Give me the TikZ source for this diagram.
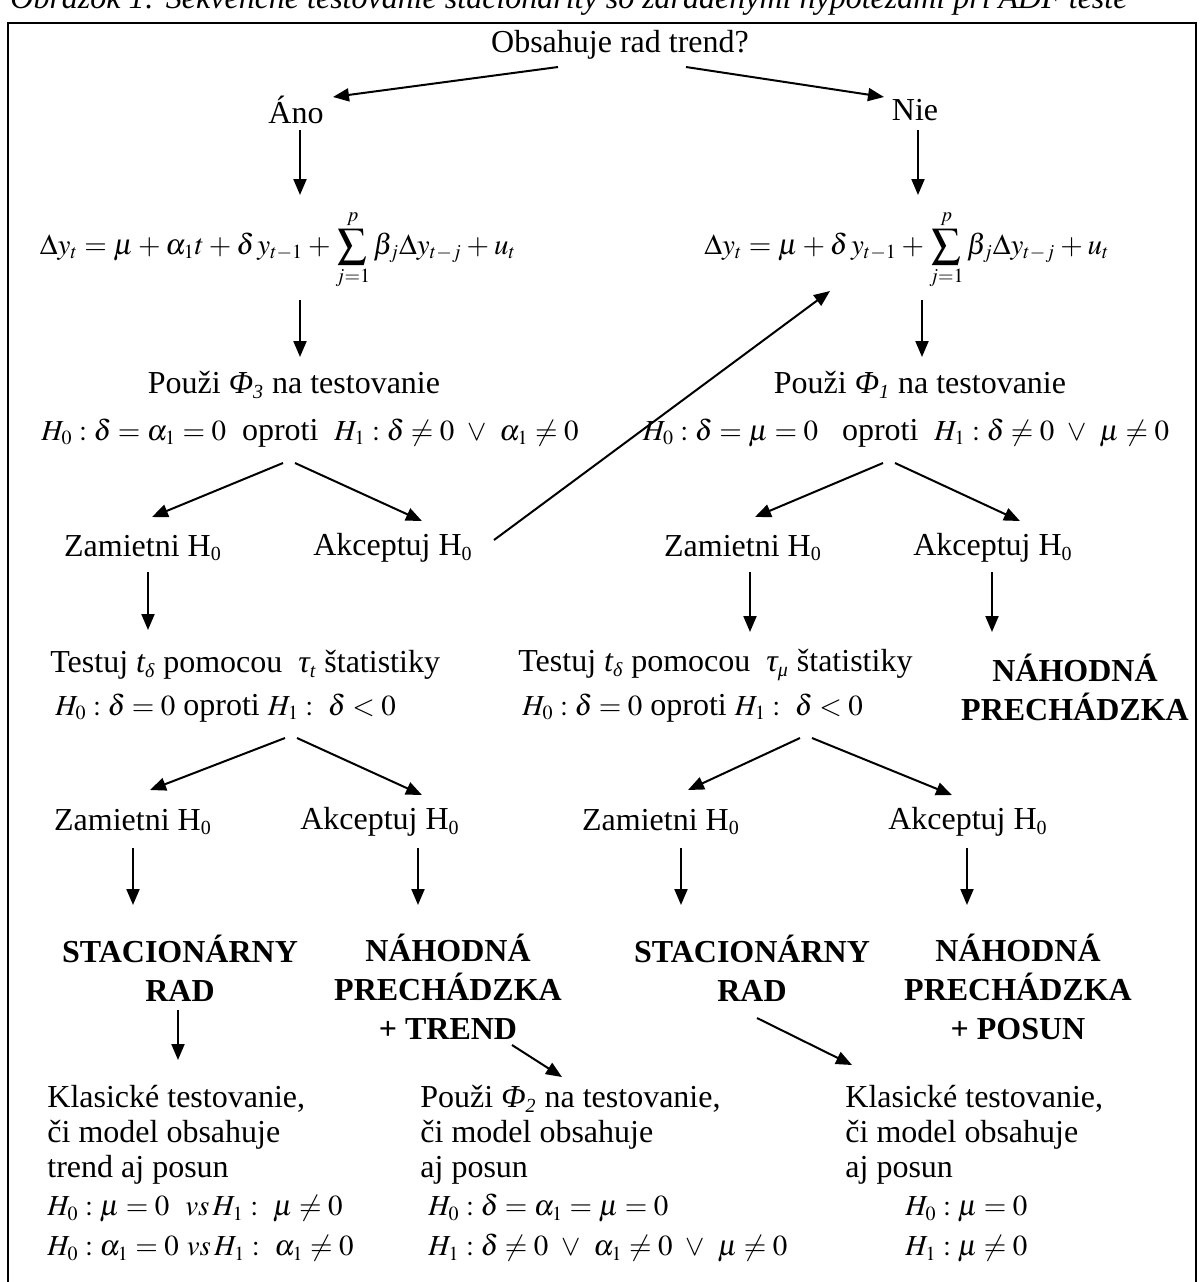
\documentclass[tikz,border=0pt]{standalone}
\usepackage{amsmath}
\usepackage{mathptmx}
\usepackage{fontspec}
\setmainfont{Liberation Serif}
\usepackage{tikz}
\usetikzlibrary{arrows.meta}
\DeclareMathSizes{16}{14.5}{10}{7.5}
\medmuskip=3mu plus 1mu minus 1mu
\thickmuskip=4mu plus 2mu

\begin{document}
\begin{tikzpicture}[x=0.5pt, y=-0.5pt,
  every node/.style={inner sep=0pt, font=\fontsize{16}{17.5}\selectfont},
  arr/.style={-{Triangle[length=8pt, width=6.5pt]}, line width=1pt},
  verdict/.style={align=center, font=\fontsize{16}{19.5}\selectfont\bfseries},
  block/.style={align=left, anchor=north west}]
  \useasboundingbox (0,0) rectangle (1200,1282);

  \node (cap) [anchor=base west, font=\fontsize{16}{17.5}\selectfont\itshape] at (10,8) {Obrázok 1: Sekvenčné testovanie stacionarity so zaradenými hypotézami pri ADF teste};
  \draw[line width=1.2pt] (8,1300) -- (8,23) -- (1196,23) -- (1196,1300);

  \node (q) at (620,45) {Obsahuje rad trend?};
  \node (ano) at (296,110) {Áno};
  \node (nie) at (915,110) {Nie};

  \node (eqA) at (278,250) {$\displaystyle \Delta y_t = \mu + \alpha_1 t + \delta\, y_{t-1} + \sum_{j=1}^{p} \beta_j \Delta y_{t-j} + u_t$};
  \node (eqN) at (907,250) {$\displaystyle \Delta y_t = \mu + \delta\, y_{t-1} + \sum_{j=1}^{p} \beta_j \Delta y_{t-j} + u_t$};

  \node (phiA) at (294,385) {Použi \textit{Φ\textsubscript{3}} na testovanie};
  \node (phiN) at (920,385) {Použi \textit{Φ\textsubscript{1}} na testovanie};
  \node (hA) at (310,433) {$H_0 : \delta = \alpha_1 = 0$ \ oproti \ $H_1 : \delta \neq 0 \ \vee \ \alpha_1 \neq 0$};
  \node (hN) at (906,433) {$H_0 : \delta = \mu = 0$ \ \ oproti \ $H_1 : \delta \neq 0 \ \vee \ \mu \neq 0$};

  \node (zA) at (143,548) {Zamietni H\textsubscript{0}};
  \node (aA) at (393,548) {Akceptuj H\textsubscript{0}};
  \node (zN) at (743,548) {Zamietni H\textsubscript{0}};
  \node (aN) at (993,548) {Akceptuj H\textsubscript{0}};

  \node (tA) [anchor=west] at (50,665) {Testuj \textit{t\textsubscript{δ}} pomocou \ \textit{τ\textsubscript{t}} štatistiky};
  \node (htA) [anchor=west] at (55,708) {$H_0 : \delta = 0$ oproti $H_1 : \ \delta < 0$};
  \node (tN) [anchor=west] at (518,665) {Testuj \textit{t\textsubscript{δ}} pomocou \ \textit{τ\textsubscript{μ}} štatistiky};
  \node (htN) [anchor=west] at (522,708) {$H_0 : \delta = 0$ oproti $H_1 : \ \delta < 0$};
  \node (rw) [verdict] at (1075,687) {NÁHODNÁ\\PRECHÁDZKA};

  \node (zA2) at (133,822) {Zamietni H\textsubscript{0}};
  \node (aA2) at (380,822) {Akceptuj H\textsubscript{0}};
  \node (zN2) at (661,822) {Zamietni H\textsubscript{0}};
  \node (aN2) at (968,822) {Akceptuj H\textsubscript{0}};

  \node (sA) [verdict] at (180,968) {STACIONÁRNY\\RAD};
  \node (rtA) [verdict] at (448,987) {NÁHODNÁ\\PRECHÁDZKA\\+ TREND};
  \node (sN) [verdict] at (752,968) {STACIONÁRNY\\RAD};
  \node (rpN) [verdict] at (1018,987) {NÁHODNÁ\\PRECHÁDZKA\\+ POSUN};

  \node (kA) [block] at (47,1085) {Klasické testovanie,\\ či model obsahuje\\ trend aj posun\\[1.5pt]
    $H_0 : \mu = 0 \ \ \mathit{vs}\, H_1 : \ \mu \neq 0$\\[2.5pt]
    $H_0 : \alpha_1 = 0 \ \mathit{vs}\, H_1 : \ \alpha_1 \neq 0$};
  \node (mA) [block] at (420,1085) {Použi \textit{Φ\textsubscript{2}} na testovanie,\\ či model obsahuje\\ aj posun\\[1.5pt]
    \ $H_0 : \delta = \alpha_1 = \mu = 0$\\[2.5pt]
    \ $H_1 : \delta \neq 0 \ \vee \ \alpha_1 \neq 0 \ \vee \ \mu \neq 0$};
  \node (kN) [block] at (845,1085) {Klasické testovanie,\\ či model obsahuje\\ aj posun\\[1.5pt]
    \hspace*{30pt}$H_0 : \mu = 0$\\[2.5pt]
    \hspace*{30pt}$H_1 : \mu \neq 0$};

  \draw[arr] ([xshift=-31pt, yshift=-11pt]q.center) -- ([xshift=18.5pt, yshift=6.5pt]ano.center);
  \draw[arr] ([xshift=33pt, yshift=-11pt]q.center) -- ([xshift=-15.5pt, yshift=6.5pt]nie.center);
  \draw[arr] ([xshift=2pt, yshift=-10pt]ano.center) -- ([xshift=11pt, yshift=27.5pt]eqA.center);
  \draw[arr] ([xshift=1.5pt, yshift=-10pt]nie.center) -- ([xshift=5.5pt, yshift=27.5pt]eqN.center);
  \draw[arr] ([xshift=11pt, yshift=-25pt]eqA.center) -- ([xshift=3pt, yshift=14pt]phiA.center);
  \draw[arr] ([xshift=7.5pt, yshift=-25pt]eqN.center) -- ([xshift=1pt, yshift=14pt]phiN.center);

  \draw[arr] ([xshift=-13.5pt, yshift=-15pt]hA.center) -- ([xshift=4.5pt, yshift=15.5pt]zA.center);
  \draw[arr] ([xshift=-7.5pt, yshift=-15pt]hA.center) -- ([xshift=14.5pt, yshift=13.5pt]aA.center);
  \draw[arr] ([xshift=-11.5pt, yshift=-15pt]hN.center) -- ([xshift=6pt, yshift=15.5pt]zN.center);
  \draw[arr] ([xshift=-5.5pt, yshift=-15pt]hN.center) -- ([xshift=13.5pt, yshift=13.5pt]aN.center);
  \draw[arr] ([xshift=50.5pt, yshift=4pt]aA.center) -- ([xshift=-38.5pt, yshift=-20.5pt]eqN.center);

  \draw[arr] ([xshift=2.5pt, yshift=-12pt]zA.center) -- ([xshift=49pt, yshift=17.5pt]tA.west);
  \draw[arr] ([xshift=3.5pt, yshift=-12pt]zN.center) -- ([xshift=116pt, yshift=16.5pt]tN.west);
  \draw[arr] ([xshift=-0.5pt, yshift=-12pt]aN.center) -- ([xshift=-41.5pt, yshift=27.5pt]rw.center);

  \draw[arr] ([xshift=115pt, yshift=-15pt]htA.west) -- ([xshift=8.5pt, yshift=16pt]zA2.center);
  \draw[arr] ([xshift=121pt, yshift=-15pt]htA.west) -- ([xshift=21pt, yshift=13.5pt]aA2.center);
  \draw[arr] ([xshift=139pt, yshift=-15pt]htN.west) -- ([xshift=13.5pt, yshift=16pt]zN2.center);
  \draw[arr] ([xshift=145pt, yshift=-15pt]htN.west) -- ([xshift=-8pt, yshift=13.5pt]aN2.center);

  \draw[arr] ([yshift=-13pt]zA2.center) -- ([xshift=-23.5pt, yshift=31.5pt]sA.center);
  \draw[arr] ([xshift=19pt, yshift=-13pt]aA2.center) -- ([xshift=-15pt, yshift=41pt]rtA.center);
  \draw[arr] ([xshift=10pt, yshift=-13pt]zN2.center) -- ([xshift=-35.5pt, yshift=31.5pt]sN.center);
  \draw[arr] ([xshift=-0.5pt, yshift=-13pt]aN2.center) -- ([xshift=-25.5pt, yshift=41pt]rpN.center);

  \draw[arr] ([xshift=-1pt, yshift=-21pt]sA.center) -- ([xshift=65.5pt, yshift=12.5pt]kA.north west);
  \draw[arr] ([xshift=32pt, yshift=-29pt]rtA.center) -- ([xshift=71pt, yshift=4pt]mA.north west);
  \draw[arr] ([xshift=2.5pt, yshift=-25pt]sN.center) -- ([xshift=3.5pt, yshift=10pt]kN.north west);
\end{tikzpicture}
\end{document}
